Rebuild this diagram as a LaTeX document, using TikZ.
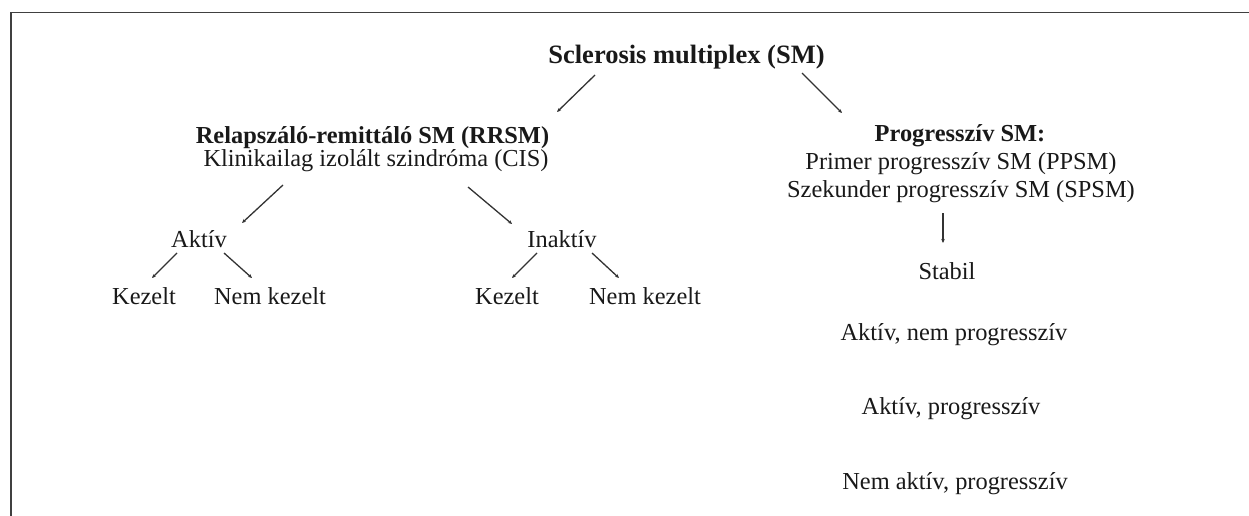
\documentclass[tikz,border=0pt]{standalone}
\usepackage{fontspec}
\setmainfont{Liberation Serif}
\usetikzlibrary{arrows.meta,calc}
\begin{document}
\begin{tikzpicture}[x=1pt,y=-1pt,
  txt/.style={anchor=base,inner sep=0pt,text=black!90,font=\fontsize{24.4}{29}\selectfont},
  hd/.style={txt,font=\fontsize{24.4}{29}\selectfont\bfseries},
  ttl/.style={txt,font=\fontsize{26.5}{31}\selectfont\bfseries},
  conn/.style={draw=black!80,line width=1.3pt,-{Stealth[length=4pt,width=3.5pt]}},
  frame/.style={draw=black!75,line width=1.5pt}]
\useasboundingbox (0,0) rectangle (1249,516);
\draw[frame] (11,516) -- (11,12.5) -- (1249,12.5);
% nodes
\node[ttl] (sm) at (686.5,64) {Sclerosis multiplex (SM)};
\node[hd] (rr) at (372.5,143) {Relapszáló-remittáló SM (RRSM)};
\node[txt] (cis) at (376,166) {Klinikailag izolált szindróma (CIS)};
\node[hd] (pg) at (960,141) {Progresszív SM:};
\node[txt] (pp) at (961,169) {Primer progresszív SM (PPSM)};
\node[txt] (sp) at (961,197) {Szekunder progresszív SM (SPSM)};
\node[txt] (akt) at (199,247) {Aktív};
\node[txt] (ina) at (562,247) {Inaktív};
\node[txt] (kl) at (144,304) {Kezelt};
\node[txt] (nkl) at (270,304) {Nem kezelt};
\node[txt] (kr) at (507,304) {Kezelt};
\node[txt] (nkr) at (645,304) {Nem kezelt};
\node[txt] (st) at (947,279) {Stabil};
\node[txt] (anp) at (954,340) {Aktív, nem progresszív};
\node[txt] (ap) at (951,414) {Aktív, progresszív};
\node[txt] (nap) at (955,489) {Nem aktív, progresszív};
% connectors
\draw[conn] ($(sm.base)+(-91.5,11)$) -- ($(rr.base)+(184.5,-31)$);
\draw[conn] ($(sm.base)+(115.5,9)$) -- ($(pg.base)+(-118,-28)$);
\draw[conn] ($(cis.base)+(-93,19)$) -- ($(akt.base)+(43,-24)$);
\draw[conn] ($(cis.base)+(92,21)$) -- ($(ina.base)+(-50,-23)$);
\draw[conn] ($(akt.base)+(-22,6)$) -- ($(kl.base)+(8,-26)$);
\draw[conn] ($(akt.base)+(25,6)$) -- ($(nkl.base)+(-18,-26)$);
\draw[conn] ($(ina.base)+(-25,6)$) -- ($(kr.base)+(5,-26)$);
\draw[conn] ($(ina.base)+(30,6)$) -- ($(nkr.base)+(-26,-26)$);
\draw[conn] ($(sp.base)+(-18,16)$) -- ($(st.base)+(-4,-36)$);
\end{tikzpicture}
\end{document}
